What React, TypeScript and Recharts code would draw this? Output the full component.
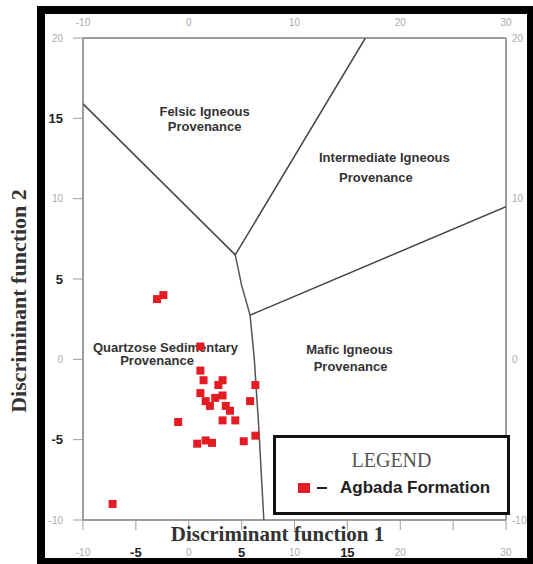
import { Legend, Scatter, ScatterChart, XAxis, YAxis } from "recharts";

// Agbada Formation samples (DF1, DF2)
const agbadaPoints = [
  { x: -3.0, y: 3.75 },
  { x: -2.4, y: 4.0 },
  { x: -7.2, y: -9.0 },
  { x: 1.1, y: 0.8 },
  { x: 1.1, y: -0.7 },
  { x: 1.4, y: -1.3 },
  { x: 1.1, y: -2.1 },
  { x: 1.6, y: -2.6 },
  { x: 2.0, y: -2.9 },
  { x: 2.8, y: -1.6 },
  { x: 3.2, y: -1.3 },
  { x: 3.2, y: -2.25 },
  { x: 2.5, y: -2.4 },
  { x: 3.5, y: -2.9 },
  { x: 3.9, y: -3.2 },
  { x: 3.2, y: -3.8 },
  { x: 4.4, y: -3.8 },
  { x: -1.0, y: -3.9 },
  { x: 0.8, y: -5.25 },
  { x: 1.6, y: -5.05 },
  { x: 2.2, y: -5.2 },
  { x: 5.2, y: -5.1 },
  { x: 6.3, y: -4.75 },
  { x: 6.3, y: -1.6 },
  { x: 5.8, y: -2.6 },
];

// field boundaries
const felsicBoundary = [
  { x: -10, y: 15.9 },
  { x: 4.4, y: 6.5 },
];
const intermediateBoundary = [
  { x: 4.4, y: 6.5 },
  { x: 16.7, y: 20 },
];
const sedimentaryBoundary = [
  { x: 4.4, y: 6.5 },
  { x: 5.0, y: 4.6 },
  { x: 5.8, y: 2.75 },
  { x: 6.2, y: 0 },
  { x: 6.6, y: -4 },
  { x: 7.1, y: -10 },
];
const maficBoundary = [
  { x: 5.8, y: 2.75 },
  { x: 30, y: 9.5 },
];

const fieldLabels = [
  { x: 1.5, y: 15.45, text: "Felsic Igneous" },
  { x: 1.5, y: 14.5, text: "Provenance" },
  { x: 18.5, y: 12.55, text: "Intermediate Igneous" },
  { x: 17.7, y: 11.3, text: "Provenance" },
  { x: -2.2, y: 0.75, text: "Quartzose Sedimentary" },
  { x: -3.0, y: -0.1, text: "Provenance" },
  { x: 15.2, y: 0.6, text: "Mafic Igneous" },
  { x: 15.3, y: -0.45, text: "Provenance" },
];

const xTicks = [-10, -5, 0, 5, 10, 15, 20, 25, 30];
const yTicks = [-10, -5, 0, 5, 10, 15, 20];
const topTicks = [-10, 0, 10, 20, 30];
const rightTicks = [-10, 0, 10, 20];
const boldTicks = [-5, 5, 15];
const hiddenBottomTicks = [25];

const axisGrey = "#9c9c9c";
const red = "#e31b23";

function tickText(value: number, x: number, y: number, anchor: string) {
  const bold = boldTicks.includes(value);
  return (
    <text
      x={x}
      y={y}
      textAnchor={anchor}
      dominantBaseline="central"
      fontFamily="'Liberation Sans', Arial, sans-serif"
      fontSize={bold ? 13 : 10}
      fontWeight={bold ? 700 : 400}
      fill={bold ? "#222" : "#aaa"}
    >
      {value}
    </text>
  );
}

const LeftTick = (p: any) => tickText(p.payload.value, p.x, p.y, "end");
const BottomTick = (p: any) =>
  hiddenBottomTicks.includes(p.payload.value) ? <g /> : tickText(p.payload.value, p.x, p.y, "middle");
const TopTick = (p: any) => tickText(p.payload.value, p.x, p.y, "middle");
const RightTick = (p: any) => tickText(p.payload.value, p.x, p.y, "start");

const FieldLabel = (p: any) => (
  <text
    x={p.cx}
    y={p.cy}
    textAnchor="middle"
    dominantBaseline="central"
    fontFamily="'Liberation Sans', Arial, sans-serif"
    fontSize={13}
    fontWeight={700}
    fill="#333"
  >
    {p.payload.text}
  </text>
);

const NoDot = () => <g />;

function LegendBox() {
  return (
    <div
      style={{
        width: 237,
        height: 80,
        boxSizing: "border-box",
        border: "3px solid #111",
        background: "#fff",
        textAlign: "center",
      }}
    >
      <div
        style={{
          fontFamily: "'Liberation Serif', 'Times New Roman', serif",
          fontSize: 20,
          color: "#555",
          marginTop: 11,
          lineHeight: "22px",
        }}
      >
        LEGEND
      </div>
      <div
        style={{
          display: "flex",
          alignItems: "center",
          marginTop: 7,
          marginLeft: 22,
          fontFamily: "'Liberation Sans', Arial, sans-serif",
          fontWeight: 700,
          fontSize: 17,
          color: "#222",
        }}
      >
        <span style={{ display: "inline-block", width: 12, height: 10, background: red }} />
        <span style={{ display: "inline-block", width: 10, height: 2.5, background: "#222", marginLeft: 7 }} />
        <span style={{ marginLeft: 13 }}>Agbada Formation</span>
      </div>
    </div>
  );
}

export default function App() {
  return (
    <div style={{ position: "relative", width: 533, height: 564, background: "#fff" }}>
      <style>{"body{margin:0}"}</style>
      <ScatterChart width={533} height={564} margin={{ top: 18, right: 7, bottom: 14, left: 53 }}>
        <XAxis
          xAxisId="b"
          type="number"
          dataKey="x"
          orientation="bottom"
          domain={[-10, 30]}
          ticks={xTicks}
          height={30}
          tickSize={10}
          tickMargin={22}
          tick={BottomTick}
          axisLine={{ stroke: axisGrey, strokeWidth: 2 }}
          tickLine={{ stroke: axisGrey }}
          allowDataOverflow
          label={(props: any) => {
            const vb = props.viewBox;
            return (
              <text
                x={vb.x + vb.width / 2 - 17}
                y={vb.y + 14}
                textAnchor="middle"
                dominantBaseline="central"
                fontFamily="'Liberation Serif', 'Times New Roman', serif"
                fontWeight={700}
                fontSize={21}
                fill="#333"
              >
                Discriminant function 1
              </text>
            );
          }}
        />
        <XAxis
          xAxisId="t"
          type="number"
          dataKey="x"
          orientation="top"
          domain={[-10, 30]}
          ticks={topTicks}
          height={20}
          tickSize={8}
          tickMargin={8}
          tick={TopTick}
          tickLine={false}
          axisLine={{ stroke: axisGrey, strokeWidth: 2 }}
          allowDataOverflow
        />
        <YAxis
          yAxisId="l"
          type="number"
          dataKey="y"
          domain={[-10, 20]}
          ticks={yTicks}
          width={30}
          tickSize={10}
          tickMargin={10}
          tick={LeftTick}
          axisLine={{ stroke: axisGrey, strokeWidth: 2 }}
          tickLine={{ stroke: axisGrey }}
          allowDataOverflow
          label={(props: any) => {
            const vb = props.viewBox;
            const cx = vb.x - 35;
            const cy = vb.y + vb.height / 2 + 22;
            return (
              <text
                x={cx}
                y={cy}
                transform={`rotate(-90 ${cx} ${cy})`}
                textAnchor="middle"
                dominantBaseline="central"
                fontFamily="'Liberation Serif', 'Times New Roman', serif"
                fontWeight={700}
                fontSize={22}
                fill="#333"
              >
                Discriminant function 2
              </text>
            );
          }}
        />
        <YAxis
          yAxisId="r"
          type="number"
          dataKey="y"
          orientation="right"
          domain={[-10, 20]}
          ticks={rightTicks}
          width={20}
          tickSize={4}
          tickMargin={2}
          tick={RightTick}
          tickLine={false}
          axisLine={{ stroke: axisGrey, strokeWidth: 2 }}
          allowDataOverflow
        />
        <Scatter xAxisId="b" yAxisId="l" data={felsicBoundary} line={{ stroke: "#444", strokeWidth: 1.5 }} lineType="joint" shape={NoDot} isAnimationActive={false} legendType="none" />
        <Scatter xAxisId="b" yAxisId="l" data={intermediateBoundary} line={{ stroke: "#444", strokeWidth: 1.5 }} lineType="joint" shape={NoDot} isAnimationActive={false} legendType="none" />
        <Scatter xAxisId="b" yAxisId="l" data={sedimentaryBoundary} line={{ stroke: "#555", strokeWidth: 1.5 }} lineType="joint" shape={NoDot} isAnimationActive={false} legendType="none" />
        <Scatter xAxisId="b" yAxisId="l" data={maficBoundary} line={{ stroke: "#444", strokeWidth: 1.5 }} lineType="joint" shape={NoDot} isAnimationActive={false} legendType="none" />
        <Scatter xAxisId="b" yAxisId="l" data={fieldLabels} shape={FieldLabel} isAnimationActive={false} legendType="none" />
        <Scatter
          name="Agbada Formation"
          xAxisId="b"
          yAxisId="l"
          data={agbadaPoints}
          shape="square"
          size={160}
          fill={red}
          isAnimationActive={false}
        />
        <Legend
          layout="vertical"
          align="center"
          verticalAlign="middle"
          content={LegendBox}
          wrapperStyle={{ left: 273, top: 435, width: 237, height: 80 }}
        />
      </ScatterChart>
      <div
        style={{
          position: "absolute",
          left: 37,
          top: 6,
          width: 496,
          height: 558,
          boxSizing: "border-box",
          borderStyle: "solid",
          borderColor: "#000",
          borderWidth: "8px 6px 6px 8px",
          pointerEvents: "none",
        }}
      />
    </div>
  );
}
